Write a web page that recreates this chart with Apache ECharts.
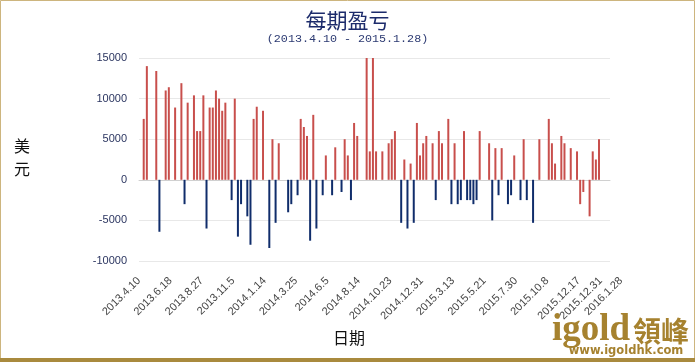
<!DOCTYPE html>
<html>
<head>
<meta charset="utf-8">
<script src="https://cdn.jsdelivr.net/npm/echarts@6/dist/echarts.min.js"></script>
<style>
html,body{margin:0;padding:0;background:#fff;}
#chart{width:695px;height:362px;}
</style>
</head>
<body>
<div id="chart"></div>
<script>
// ---- data (weekly slots; null = no bar) ----
const redBars = [
  null,
  7500,14000,null,null,13400,null,null,11000,11400,null,
  8900,null,11900,null,9500,null,10400,6000,6000,10400,
  null,8900,8900,11000,10000,8500,9500,5000,null,10000,
  null,null,null,null,null,7500,9000,null,8500,null,
  null,5000,null,4500,null,null,null,null,null,null,
  7500,6500,5400,null,8000,null,null,null,3000,null,
  null,4000,null,null,5000,3000,null,7000,5400,null,
  null,15000,3500,15000,3500,null,3500,null,4500,5000,
  6000,null,null,2500,null,2000,null,7000,3000,4500,
  5400,null,4500,null,6000,4500,null,7500,null,4500,
  null,null,6000,null,null,null,null,6000,null,null,
  4500,null,3900,null,3900,null,null,null,3000,null,
  null,5000,null,null,null,null,5000,null,null,7500,
  4500,2000,null,5400,4500,null,3900,null,3500,-3000,
  -1500,null,-4500,3500,2500,5000,
  null,null,null
];
const blueBars = [
  null,
  null,null,null,null,null,-6400,null,null,null,null,
  null,null,null,-3000,null,null,null,null,null,null,
  -6000,null,null,null,null,null,null,null,-2500,null,
  -7000,-3000,null,-4500,-8000,null,null,null,null,null,
  -8400,null,-5300,null,null,null,-4000,-3000,null,-1900,
  null,null,null,-7500,null,-6000,null,-1900,null,null,
  -1900,null,null,-1500,null,null,-2500,null,null,null,
  null,null,null,null,null,null,null,null,null,null,
  null,null,-5300,null,-6000,null,-5300,null,null,null,
  null,null,null,-2500,null,null,null,null,-3000,null,
  -3000,-2500,null,-2500,-2500,-3000,-2500,null,null,null,
  null,-5000,null,-1900,null,null,-3000,-1900,null,null,
  -2500,null,-2500,null,-5300,null,null,null,null,null,
  null,null,null,null,null,null,null,null,null,null,
  null,null,null,null,null,null,
  null,null,null
];
const tickLabels = ['2013.4.10','2013.6.18','2013.8.27','2013.11.5','2014.1.14','2014.3.25','2014.6.5',
  '2014.8.14','2014.10.23','2014.12.31','2015.3.13','2015.5.21','2015.7.30','2015.10.8',
  '2015.12.17','2015.12.31','2016.1.28'];
const yTicks = {min:-10000, max:15000, interval:5000};
const titleText = '每期盈亏';
const subtitleText = '(2013.4.10 - 2015.1.28)';

// ---- layout helpers ----
const slots = redBars.map((_, i) => String(i));
// label positions on a half-slot grid
const labelSlotPos = [0,20,40,60,80,100,120,140,160,180,200,220,240,260,280,294,307];
const labelCats = new Array(308).fill('');
labelSlotPos.forEach((p, i) => { labelCats[p] = tickLabels[i]; });

const navy = '#1c2b6b';
const gold = '#a6822f';
const chart = echarts.init(document.getElementById('chart'), null, {renderer:'canvas'});
chart.setOption({
  animation:false,
  backgroundColor:'#fff',
  title:[
    {text:titleText, left:'center', top:5,
     textStyle:{fontSize:21, fontWeight:'normal', color:navy, fontFamily:'Noto Sans CJK SC'}},
    {text:subtitleText, left:'center', top:28,
     textStyle:{fontSize:11.7, fontWeight:'normal', color:'#2c3a72', fontFamily:'Liberation Mono'}}
  ],
  grid:[
    {left:139, top:58, width:471, height:203},
    {left:139, top:58, width:482, height:203}
  ],
  xAxis:[
    {type:'category', gridIndex:0, data:slots, boundaryGap:true,
     axisLine:{show:true, onZero:true, lineStyle:{color:'#d0d0d0', width:1}},
     axisTick:{show:false}, axisLabel:{show:false}, splitLine:{show:false}},
    {type:'category', gridIndex:1, data:labelCats, boundaryGap:false,
     axisLine:{show:false, onZero:false}, axisTick:{show:false}, splitLine:{show:false},
     axisLabel:{interval:0, rotate:45, margin:18, fontSize:11, color:'#444', fontFamily:'Liberation Sans'}}
  ],
  yAxis:[
    {type:'value', gridIndex:0, min:yTicks.min, max:yTicks.max, interval:yTicks.interval,
     axisLine:{show:false}, axisTick:{show:false},
     axisLabel:{fontSize:11, color:'#2b3560', margin:12, fontFamily:'Liberation Sans',
       formatter:(v) => String(v)},
     splitLine:{lineStyle:{color:'#e8e8e8', width:1}}},
    {type:'value', gridIndex:1, show:false, min:0, max:1}
  ],
  series:[
    {type:'bar', name:'red', xAxisIndex:0, yAxisIndex:0, data:redBars, barWidth:2, barGap:'-100%',
     itemStyle:{color:'#c84f4c'}},
    {type:'bar', name:'blue', xAxisIndex:0, yAxisIndex:0, data:blueBars, barWidth:2, barGap:'-100%',
     itemStyle:{color:'#102d6b'}}
  ],
  graphic:[
    {type:'rect', shape:{x:0.5, y:0.5, width:694, height:360}, style:{fill:'none', stroke:'#cdb57e', lineWidth:1}},
    {type:'rect', shape:{x:0, y:358, width:695, height:4}, style:{fill:'#a98a3e'}},
    {type:'text', x:22, y:157, style:{text:'美\n元', fill:'#111', fontSize:16, lineHeight:23,
      align:'center', verticalAlign:'middle', fontFamily:'Noto Sans CJK SC'}},
    {type:'text', x:349, y:338, style:{text:'日期', fill:'#111', fontSize:16,
      align:'center', verticalAlign:'middle', fontFamily:'Noto Sans CJK SC'}},
    {type:'text', x:552, y:330, style:{text:'igold', fill:gold, fontSize:37, fontWeight:'bold',
      align:'left', verticalAlign:'middle', fontFamily:'Liberation Serif'}},
    {type:'text', x:633, y:331, style:{text:'領峰', fill:gold, fontSize:28, fontWeight:'bold',
      align:'left', verticalAlign:'middle', fontFamily:'Noto Sans CJK TC'}},
    {type:'text', x:626, y:351, style:{text:'www.igoldhk.com', fill:gold, fontSize:11.5, fontWeight:'bold',
      align:'center', verticalAlign:'middle', fontFamily:'DejaVu Sans'}}
  ]
});
</script>
</body>
</html>
